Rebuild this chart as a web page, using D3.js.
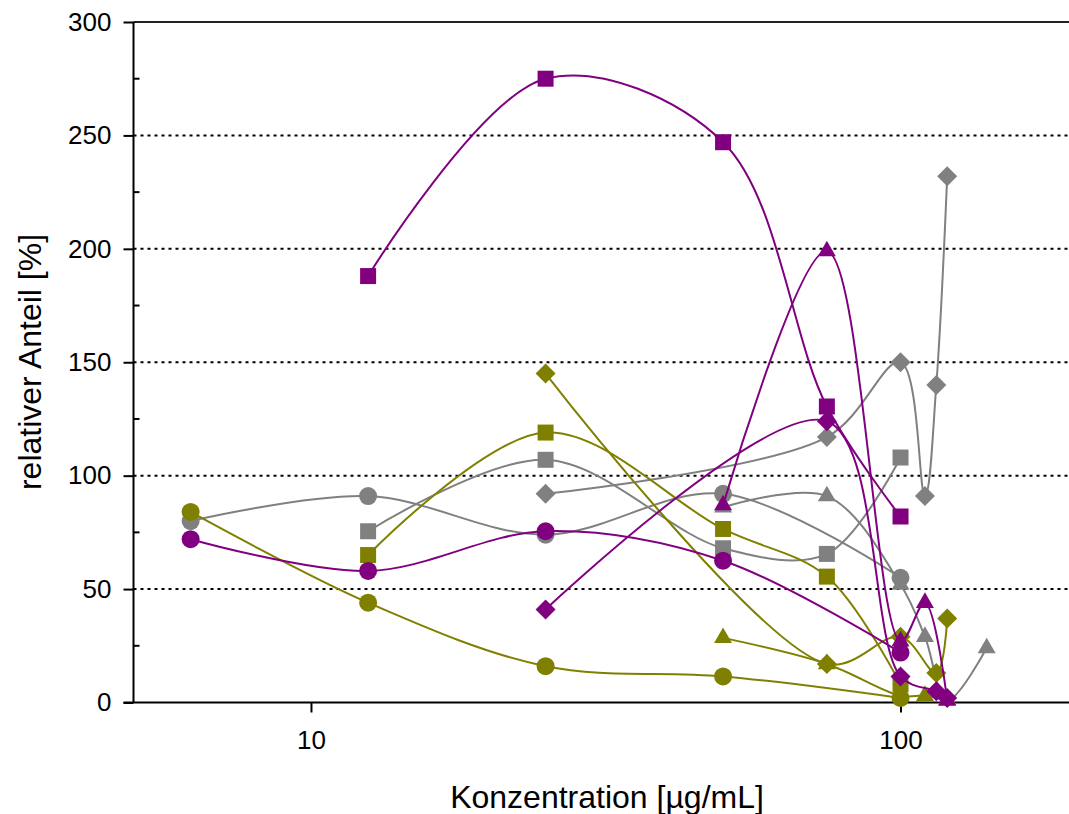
<!DOCTYPE html>
<html>
<head>
<meta charset="utf-8">
<script src="https://cdn.jsdelivr.net/npm/d3@7"></script>
<style>
  html, body { margin: 0; padding: 0; background: #fff; }
  svg { display: block; font-family: "Liberation Sans", Arial, sans-serif; }
</style>
</head>
<body>
<svg id="chart" width="1069" height="814"></svg>
<script>
// ---- data (concentration in µg/mL, relative share in %) ----
const grayCircle    = [[6.25, 80], [12.5, 91], [25, 74], [50, 92], [100, 55]];
const graySquare    = [[12.5, 75.5], [25, 107], [50, 68], [75, 65.5], [100, 108]];
const grayDiamond   = [[25, 92], [75, 117], [100, 150], [110, 91], [115, 140], [120, 232]];
const grayTriangle  = [[50, 86], [75, 91], [100, 52], [110, 29], [120, 1], [140, 24]];

const oliveCircle   = [[6.25, 84], [12.5, 44], [25, 16], [50, 11.5], [100, 2]];
const oliveSquare   = [[12.5, 65], [25, 119], [50, 76.5], [75, 55.5], [100, 8]];
const oliveDiamond  = [[25, 145], [75, 17], [100, 29], [115, 13], [120, 37]];
const oliveTriangle = [[50, 28.5], [75, 17], [100, 3], [110, 3], [120, 1]];

const purpleCircle   = [[6.25, 72], [12.5, 58], [25, 75.5], [50, 62.5], [100, 22]];
const purpleSquare   = [[12.5, 188], [25, 275], [50, 247], [75, 130.5], [100, 82]];
const purpleDiamond  = [[25, 41], [75, 124], [100, 11.5], [115, 5], [120, 2]];
const purpleTriangle = [[50, 87], [75, 199], [100, 27], [110, 44], [120, 1]];

const yTicks = [0, 50, 100, 150, 200, 250, 300];
const yMinorTicks = [25, 75, 125, 175, 225, 275];
const xTicks = [10, 100];
const xTitle = "Konzentration [µg/mL]";
const yTitle = "relativer Anteil [%]";

// ---- series table (data + style mapping) ----
const series = [
  { data: grayCircle,    group: "gray",   shape: "circle" },
  { data: graySquare,    group: "gray",   shape: "square" },
  { data: grayDiamond,   group: "gray",   shape: "diamond" },
  { data: grayTriangle,  group: "gray",   shape: "triangle" },
  { data: oliveCircle,   group: "olive",  shape: "circle" },
  { data: oliveSquare,   group: "olive",  shape: "square" },
  { data: oliveDiamond,  group: "olive",  shape: "diamond" },
  { data: oliveTriangle, group: "olive",  shape: "triangle" },
  { data: purpleCircle,   group: "purple", shape: "circle" },
  { data: purpleSquare,   group: "purple", shape: "square" },
  { data: purpleDiamond,  group: "purple", shape: "diamond" },
  { data: purpleTriangle, group: "purple", shape: "triangle" }
];
const colors = { gray: "#808080", olive: "#808000", purple: "#800080" };

// ---- layout ----
const svg = d3.select("#chart");
const mLeft = 133.5, mRight = 1078, mTop = 22, mBottom = 702.5;

const x = d3.scaleLog().domain([5, 200]).range([mLeft, mRight]);
const y = d3.scaleLinear().domain([0, 300]).range([mBottom, mTop]);

// dotted grid lines
svg.append("g").selectAll("line")
  .data(yTicks.filter(d => d > 0 && d < 300))
  .join("line")
  .attr("x1", mLeft).attr("x2", 1069)
  .attr("y1", d => y(d)).attr("y2", d => y(d))
  .attr("stroke", "#000").attr("stroke-width", 2)
  .attr("stroke-dasharray", "3,4");

// top frame line
svg.append("line")
  .attr("x1", mLeft).attr("x2", 1069)
  .attr("y1", y(300)).attr("y2", y(300))
  .attr("stroke", "#222").attr("stroke-width", 2);

// Y axis
const yAxis = d3.axisLeft(y).tickValues(yTicks).tickSize(10).tickPadding(12);
const gy = svg.append("g").attr("transform", `translate(${mLeft},0)`).call(yAxis);
gy.select(".domain").attr("stroke-width", 2).attr("d", `M0,${mTop}V${mBottom}`);
gy.selectAll(".tick line").attr("stroke-width", 2);
gy.selectAll(".tick text").attr("font-size", 26).attr("font-family", "Liberation Sans, Arial, sans-serif").attr("fill", "#000");
svg.append("g").selectAll("line").data(yMinorTicks).join("line")
  .attr("x1", mLeft).attr("x2", mLeft + 6)
  .attr("y1", d => y(d)).attr("y2", d => y(d))
  .attr("stroke", "#000").attr("stroke-width", 2);

// X axis
const xAxis = d3.axisBottom(x).tickValues(xTicks).tickFormat(d3.format("d")).tickSize(10).tickPadding(18);
const gx = svg.append("g").attr("transform", `translate(0,${mBottom})`).call(xAxis);
gx.select(".domain").attr("stroke-width", 2).attr("d", `M${mLeft - 10},0H1069`);
gx.selectAll(".tick line").attr("stroke-width", 2);
gx.selectAll(".tick text").attr("font-size", 26).attr("font-family", "Liberation Sans, Arial, sans-serif").attr("fill", "#000");

// axis titles
svg.append("text")
  .attr("x", 607).attr("y", 808)
  .attr("text-anchor", "middle").attr("font-size", 32).attr("fill", "#000")
  .text(xTitle);
svg.append("text")
  .attr("transform", `translate(41,${362}) rotate(-90)`)
  .attr("text-anchor", "middle").attr("font-size", 32).attr("fill", "#000")
  .text(yTitle);

// ---- series ----
const line = d3.line()
  .x(d => x(d[0])).y(d => y(d[1]))
  .curve(d3.curveCatmullRom.alpha(0.5));

const symbolFor = {
  circle: d3.symbol().type(d3.symbolCircle).size(254),
  square: d3.symbol().type(d3.symbolSquare).size(256),
  diamond: d3.symbol().type(d3.symbolSquare).size(200),
  triangle: d3.symbol().type(d3.symbolTriangle).size(140)
};

const plot = svg.append("g");
series.forEach(s => {
  const g = plot.append("g");
  g.append("path")
    .datum(s.data)
    .attr("d", line)
    .attr("fill", "none")
    .attr("stroke", colors[s.group])
    .attr("stroke-width", 2);
  g.selectAll("path.m").data(s.data).join("path")
    .attr("class", "m")
    .attr("d", symbolFor[s.shape]())
    .attr("transform", d => `translate(${x(d[0])},${y(d[1])})` + (s.shape === "diamond" ? " rotate(45)" : ""))
    .attr("fill", colors[s.group]);
});
</script>
</body>
</html>
